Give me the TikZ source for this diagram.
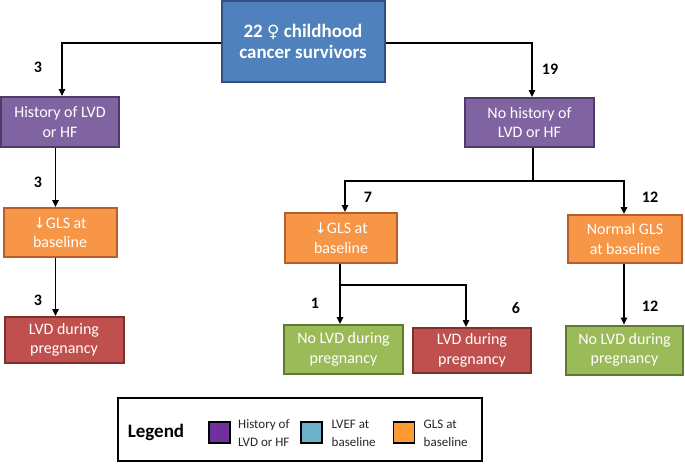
\documentclass[tikz,border=0pt]{standalone}
\usepackage{fontspec}
\setmainfont{Carlito}
\newfontfamily\symfont{DejaVu Sans}
\usetikzlibrary{arrows.meta}
\definecolor{cblue}{HTML}{4F81BD}
\definecolor{cblueD}{HTML}{2F5283}
\definecolor{cpurp}{HTML}{8064A2}
\definecolor{cpurpD}{HTML}{4E3B67}
\definecolor{corng}{HTML}{F79646}
\definecolor{corngD}{HTML}{B5602A}
\definecolor{cred}{HTML}{C0504D}
\definecolor{credD}{HTML}{7E302E}
\definecolor{cgrn}{HTML}{9BBB59}
\definecolor{cgrnD}{HTML}{5E7A2E}
\definecolor{lpurp}{HTML}{7030A0}
\definecolor{lblue}{HTML}{6BB2C8}
\definecolor{lorng}{HTML}{FF9933}
\definecolor{ltext}{HTML}{262626}
\tikzset{
  box/.style={draw, line width=2pt, text=white, align=center,
    font=\fontsize{16}{19.5}\selectfont, inner sep=0pt},
  bluebox/.style={box, fill=cblue, draw=cblueD},
  purpbox/.style={box, fill=cpurp, draw=cpurpD},
  orngbox/.style={box, fill=corng, draw=corngD},
  redbox/.style={box, fill=cred, draw=credD},
  grnbox/.style={box, fill=cgrn, draw=cgrnD},
  ln/.style={line width=1.4pt},
  arr/.style={line width=1.4pt, -{Triangle[length=7pt,width=6.5pt]}},
  num/.style={font=\fontsize{16}{19}\selectfont\bfseries, text=black, inner sep=0pt},
  swatch/.style={draw=black, line width=1.4pt, minimum width=21pt, minimum height=21pt, inner sep=0pt},
  legtext/.style={font=\fontsize{13}{18}\selectfont, text=ltext, align=left, anchor=west, inner sep=0pt},
}
\begin{document}
\begin{tikzpicture}[x=1pt,y=-1pt]
\useasboundingbox (0,0) rectangle (685,463);
% boxes
\node[bluebox, minimum width=163pt, minimum height=81pt,
      font=\fontsize{19}{21}\selectfont\bfseries] (top) at (303,41.5)
  {22 {\symfont\mdseries\fontsize{17}{21}\selectfont ♀} childhood\\cancer survivors};
\node[purpbox, minimum width=118pt, minimum height=50pt] (lp) at (60,122) {History of LVD\\or HF};
\node[purpbox, minimum width=129pt, minimum height=49pt] (rp) at (529.5,122.5) {No history of\\LVD or HF};
\node[orngbox, minimum width=113pt, minimum height=49pt] (lo) at (60,232.5) {{\symfont\fontsize{15}{19}\selectfont ↓}GLS at\\baseline};
\node[orngbox, minimum width=112pt, minimum height=50pt] (mo) at (341,238) {{\symfont\fontsize{15}{19}\selectfont ↓}GLS at\\baseline};
\node[orngbox, minimum width=114pt, minimum height=48pt] (ro) at (625,239) {Normal GLS\\at baseline};
\node[redbox, minimum width=119pt, minimum height=46pt] (lr) at (64,340) {LVD during\\pregnancy};
\node[grnbox, minimum width=119pt, minimum height=49pt] (mg) at (343.5,349.5) {No LVD during\\pregnancy};
\node[redbox, minimum width=118pt, minimum height=45pt] (mr) at (472,350.5) {LVD during\\pregnancy};
\node[grnbox, minimum width=117pt, minimum height=49pt] (rg) at (624.5,350) {No LVD during\\pregnancy};
% connectors
\draw[arr] (top.west |- 0,43) -| ([xshift=2pt]lp.north);
\draw[arr] (top.east |- 0,43) -| ([xshift=2.5pt]rp.north);
\draw[arr] (lp.south -| 55.5,0) -- (lo.north -| 55.5,0);
\draw[arr] (lo.south -| 55.5,0) -- (lr.north -| 55.5,0);
\coordinate (rj) at (533,181);
\draw[ln] (rp.south -| rj) -- (rj);
\draw[arr] (rj) -| ([xshift=4pt]mo.north);
\draw[arr] (rj) -| ([xshift=-1pt]ro.north);
\coordinate (mj) at (340,285);
\draw[ln] (mo.south -| mj) -- (mj);
\draw[arr] (mj) -- (mg.north -| mj);
\draw[arr] (mj) -| (mr.north -| 466,0);
\draw[arr] (ro.south -| 624,0) -- (rg.north -| 624,0);
% counts
\node[num] (n1) at (38,67) {3};
\node[num] (n2) at (550,69) {19};
\node[num] (n3) at (38,182) {3};
\node[num] (n4) at (38,300) {3};
\node[num] (n5) at (368,197) {7};
\node[num] (n6) at (650,197) {12};
\node[num] (n7) at (315,303) {1};
\node[num] (n8) at (516,308) {6};
\node[num] (n9) at (650,306) {12};
% legend
\node[draw=black, line width=1.5pt, minimum width=364pt, minimum height=63pt, inner sep=0pt] (leg) at (300,429.5) {};
\node[font=\fontsize{19}{21}\selectfont\bfseries, text=black, inner sep=0pt] (legt) at (156,432) {Legend};
\node[swatch, fill=lpurp] (s1) at (219.5,432.5) {};
\node[swatch, fill=lblue] (s2) at (311.5,432.5) {};
\node[swatch, fill=lorng] (s3) at (404,432.5) {};
\node[legtext] (t1) at (238,433.5) {History of\\LVD or HF};
\node[legtext] (t2) at (331.5,433.5) {LVEF at\\baseline};
\node[legtext] (t3) at (423.5,433.5) {GLS at\\baseline};
\end{tikzpicture}
\end{document}
